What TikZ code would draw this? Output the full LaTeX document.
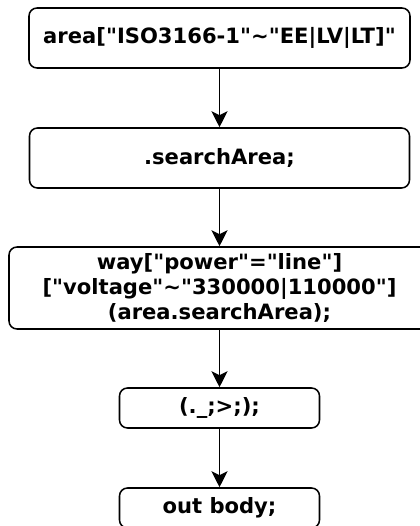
\documentclass[tikz,border=0pt]{standalone}
\usepackage{fontspec}
\setmainfont{DejaVu Sans}[Ligatures=TeXOff]
\usetikzlibrary{arrows.meta}

\tikzset{
  querybox/.style={draw=black, line width=1.1pt, rounded corners=0.2cm, fill=white, text=black, align=center, font=\bfseries\fontsize{15}{17.5}\selectfont},
  flow/.style={line width=1.4pt, -{Stealth[length=0.4cm, width=0.4cm, inset=0.1cm]}}
}

\begin{document}
\begin{tikzpicture}
\useasboundingbox (0, 0) rectangle (10.5, -13.15);

\node[querybox] (areaq) [minimum width=9.525cm, minimum height=1.5cm] at (5.4875, -0.95) {area["ISO3166-1"\string~"EE|LV|LT]"};
\node[querybox] (search) [minimum width=9.5cm, minimum height=1.5cm] at (5.4875, -3.95) {.searchArea;};
\node[querybox] (wayq) [minimum width=10.525cm, minimum height=2.05cm] at (5.4875, -7.2) {way["power"="line"]\\{[}"voltage"\string~"330000|110000"]\\(area.searchArea);};
\node[querybox] (recurse) [minimum width=5cm, minimum height=1cm] at (5.4875, -10.2) {(.\_;>;);};
\node[querybox] (outbody) [minimum width=5cm, minimum height=1cm] at (5.4875, -12.7) {out body;};

\draw[flow] (areaq) -- (search);
\draw[flow] (search) -- (wayq);
\draw[flow] (wayq) -- (recurse);
\draw[flow] (recurse) -- (outbody);

\end{tikzpicture}
\end{document}
